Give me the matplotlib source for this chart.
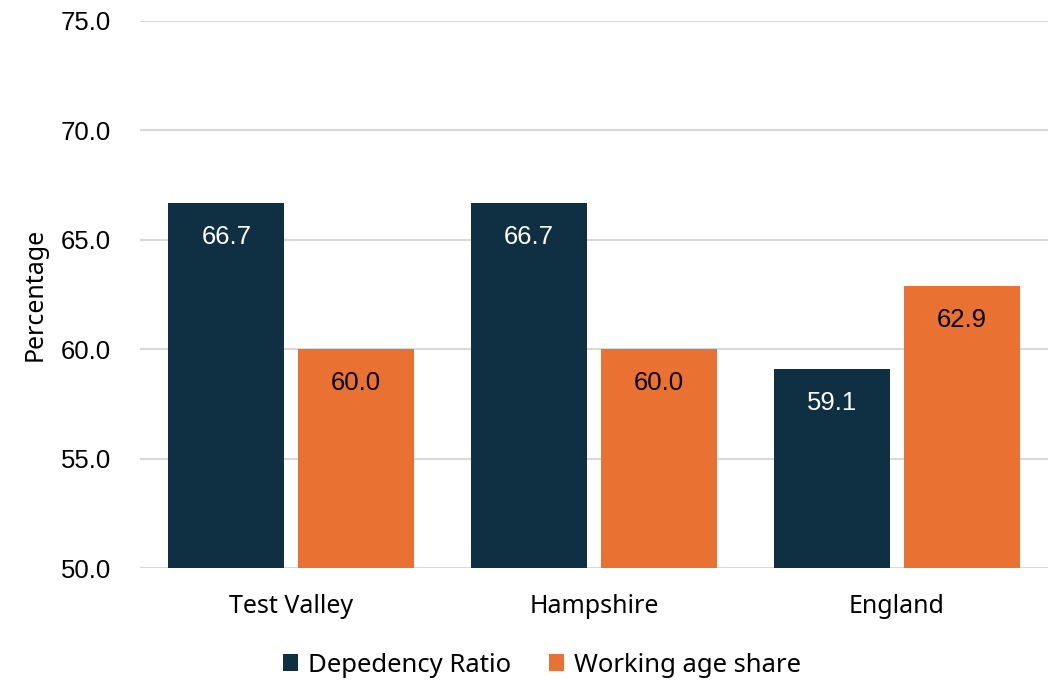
import numpy as np
import matplotlib.pyplot as plt

## chart data
areas = ['Test Valley', 'Hampshire', 'England']
dependency = [66.7, 66.7, 59.1]
working_age = [60.0, 60.0, 62.9]
series_names = ['Depedency Ratio', 'Working age share']
yticks = [50.0, 55.0, 60.0, 65.0, 70.0, 75.0]

dark = '#0e3042'
orange = '#e97132'

fig = plt.figure(figsize=(10.56, 6.81), dpi=100)
ax = fig.add_axes([140/1056, 1 - 568/681, 908/1056, 547/681])

x = np.arange(len(areas))
w = 0.383
off = 0.2145

b1 = ax.bar(x - off, dependency, w, color=dark, label=series_names[0], zorder=3)
b2 = ax.bar(x + off, working_age, w, color=orange, label=series_names[1], zorder=3)

for bars, col in ((b1, 'white'), (b2, 'black')):
    for r in bars:
        ax.annotate(f'{r.get_height():.1f}', (r.get_x() + r.get_width()/2, r.get_height()),
                    xytext=(0, -34), textcoords='offset pixels', ha='center', va='center',
                    color=col, fontsize=18.5, family='Liberation Sans', zorder=4)

ax.set_ylim(50, 75)
ax.set_xlim(-0.5, 2.5)
ax.set_yticks(yticks)
ax.set_yticklabels([f'{t:.1f}' for t in yticks], family='Liberation Sans', fontsize=18.5)
ax.set_xticks(x)
ax.set_xticklabels(areas, family='Noto Sans', fontsize=18)
ax.tick_params(axis='y', length=0, pad=21)
ax.tick_params(axis='x', length=0, pad=19)
ax.yaxis.grid(True, color='#d9d9d9', linewidth=1.5, zorder=0)
for s in ax.spines.values():
    s.set_visible(False)
ax.set_ylabel('Percentage', family='Noto Sans', fontsize=18)
ax.yaxis.set_label_coords(-92/908, 0.5)

fig.legend(handles=[b1, b2], loc='center', bbox_to_anchor=(542/1056, 1 - 665/681),
           ncol=2, frameon=False, prop={'family': 'Noto Sans', 'size': 18.5},
           handlelength=0.6, handleheight=0.6, handletextpad=0.4, columnspacing=1.45)

fig.savefig('out.png', dpi=100)
